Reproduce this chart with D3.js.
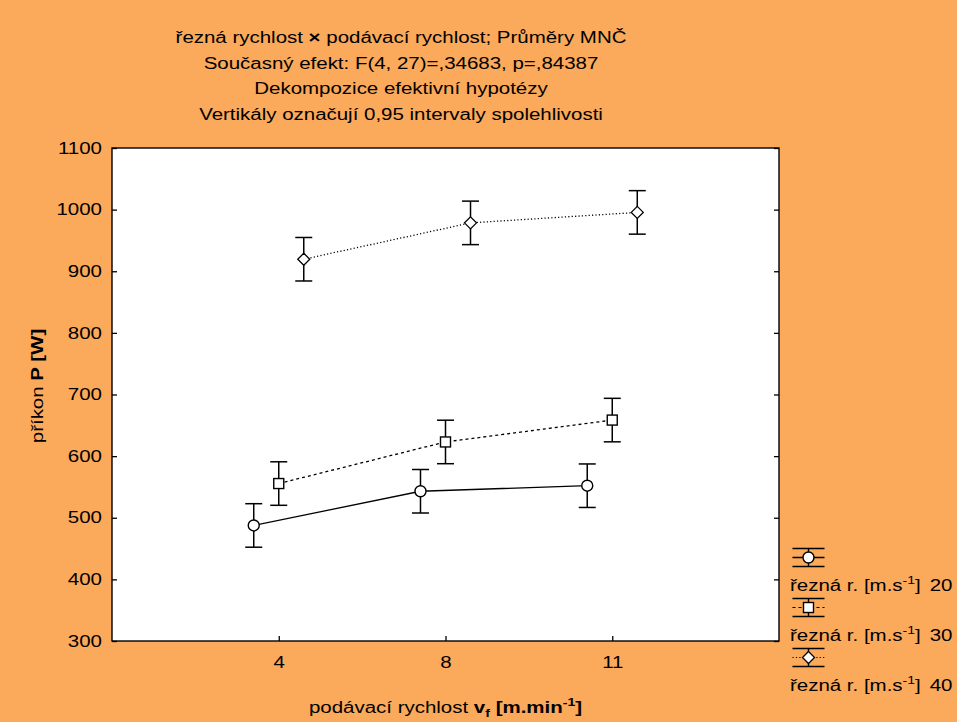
<!DOCTYPE html>
<html>
<head>
<meta charset="utf-8">
<script src="https://cdn.jsdelivr.net/npm/d3@7"></script>
<style>
html,body{margin:0;padding:0;background:#FBA95A;}
svg{display:block;font-family:Arial,"Liberation Sans",sans-serif;}
</style>
</head>
<body>
<svg id="chart" width="957" height="722"></svg>
<script>
// ---- data ----
const titleLines = [
  ["řezná rychlost ", "×", " podávací rychlost; Průměry MNČ"],
  ["Současný efekt: F(4, 27)=,34683, p=,84387"],
  ["Dekompozice efektivní hypotézy"],
  ["Vertikály označují 0,95 intervaly spolehlivosti"]
];
const categories = ["4", "8", "11"];
const seriesNames = ["20", "30", "40"];
const means20 = [487.5, 543, 552];
const means30 = [555.5, 623, 658.5];
const means40 = [919.5, 978.5, 995.5];
const ci20 = [35.3, 35.3, 35.3];
const ci30 = [35.3, 35.3, 35.3];
const ci40 = [35.3, 35.3, 35.3];
const yTicks = [300, 400, 500, 600, 700, 800, 900, 1000, 1100];

// ---- layout ----
const svg = d3.select("#chart");
const pL = 112, pR = 779, pT = 148, pB = 641;
const SX = 1.28;   // horizontal stretch of the glyphs
const FS = 16;
const bg = "#FBA95A";
svg.append("rect").attr("width", 957).attr("height", 722).attr("fill", bg);

const x = d3.scaleLinear().domain([0, categories.length + 1]).range([pL, pR]);
const y = d3.scaleLinear().domain([300, 1100]).range([pB, pT]);

svg.append("rect").attr("x", pL).attr("y", pT)
  .attr("width", pR - pL).attr("height", pB - pT)
  .attr("fill", "#fff").attr("stroke", "#000").attr("stroke-width", 1.4);

function stretchText(sel) {
  sel.each(function () {
    const t = d3.select(this);
    const tx = +t.attr("x") || 0, ty = +t.attr("y") || 0;
    t.attr("x", 0).attr("y", 0)
      .attr("transform", `translate(${tx},${ty}) scale(${SX},1)`);
  });
}

// axes
const yAxis = d3.axisLeft(y).tickValues(yTicks).tickFormat(d3.format("d"))
  .tickSizeInner(-5).tickSizeOuter(0).tickPadding(10);
const gy = svg.append("g").attr("transform", `translate(${pL},0)`).call(yAxis);
const yAxisR = d3.axisRight(y).tickValues(yTicks).tickSizeInner(-5).tickSizeOuter(0).tickFormat("");
const gyr = svg.append("g").attr("transform", `translate(${pR},0)`).call(yAxisR);
const xAxis = d3.axisBottom(x).tickValues(categories.map((c, i) => i + 1))
  .tickFormat((d) => categories[d - 1]).tickSizeInner(-5).tickSizeOuter(0).tickPadding(16);
const gx = svg.append("g").attr("transform", `translate(0,${pB})`).call(xAxis);
[gy, gyr, gx].forEach(g => {
  g.select(".domain").remove();
  g.selectAll("line").attr("stroke", "#000").attr("stroke-width", 1.3);
  g.selectAll("text").attr("font-size", FS).attr("fill", "#000")
    .attr("font-family", "Arial, 'Liberation Sans', sans-serif");
  stretchText(g.selectAll("text"));
});

// titles
const tl = svg.append("g").selectAll("text").data(titleLines).join("text")
  .attr("x", 401).attr("y", (d, i) => 43 + i * 25.7)
  .attr("text-anchor", "middle").attr("font-size", FS);
tl.selectAll("tspan").data(d => d).join("tspan")
  .attr("font-weight", d => d === "×" ? "bold" : null).text(d => d);
stretchText(tl);

// axis titles
const xt = svg.append("text").attr("x", (pL + pR) / 2).attr("y", 713)
  .attr("text-anchor", "middle").attr("font-size", FS);
xt.append("tspan").text("podávací rychlost ");
xt.append("tspan").attr("font-weight", "bold").text("v");
xt.append("tspan").attr("font-weight", "bold").attr("font-size", 11).attr("dy", 4).text("f");
xt.append("tspan").attr("font-weight", "bold").attr("dy", -4).text(" [m.min");
xt.append("tspan").attr("font-weight", "bold").attr("font-size", 11).attr("dy", -7).text("-1");
xt.append("tspan").attr("font-weight", "bold").attr("dy", 7).text("]");
stretchText(xt);

const yt = svg.append("text").attr("transform", `translate(43,386) rotate(-90) scale(${SX},1)`)
  .attr("text-anchor", "middle").attr("font-size", FS);
yt.append("tspan").text("příkon ");
yt.append("tspan").attr("font-weight", "bold").text("P [W]");

// series
const series = [
  {name: seriesNames[0], means: means20, ci: ci20, dash: null, marker: "circle", off: -0.15},
  {name: seriesNames[1], means: means30, ci: ci30, dash: "3,3", marker: "square", off: 0},
  {name: seriesNames[2], means: means40, ci: ci40, dash: "1.2,2.2", marker: "diamond", off: 0.15}
];

function drawMarker(g, type, cx, cy) {
  if (type === "circle") {
    g.append("circle").attr("cx", cx).attr("cy", cy).attr("r", 5.5)
      .attr("fill", "#fff").attr("stroke", "#000").attr("stroke-width", 1.4);
  } else if (type === "square") {
    g.append("rect").attr("x", cx - 5).attr("y", cy - 5).attr("width", 10).attr("height", 10)
      .attr("fill", "#fff").attr("stroke", "#000").attr("stroke-width", 1.4);
  } else {
    const s = 6;
    g.append("path").attr("d", `M${cx},${cy - s}L${cx + s},${cy}L${cx},${cy + s}L${cx - s},${cy}Z`)
      .attr("fill", "#fff").attr("stroke", "#000").attr("stroke-width", 1.3);
  }
}

const cap = 8.5;
series.forEach(s => {
  const g = svg.append("g");
  const pts = s.means.map((m, i) => [x(i + 1 + s.off), y(m)]);
  g.append("path").attr("d", d3.line()(pts)).attr("fill", "none")
    .attr("stroke", "#000").attr("stroke-width", 1.3)
    .attr("stroke-dasharray", s.dash);
  s.means.forEach((m, i) => {
    const cx = x(i + 1 + s.off);
    const y1 = y(m + s.ci[i]), y0 = y(m - s.ci[i]);
    g.append("line").attr("x1", cx).attr("x2", cx).attr("y1", y1).attr("y2", y0)
      .attr("stroke", "#000").attr("stroke-width", 1.5);
    [y1, y0].forEach(yy => g.append("line").attr("x1", cx - cap).attr("x2", cx + cap)
      .attr("y1", yy).attr("y2", yy).attr("stroke", "#000").attr("stroke-width", 1.5));
    drawMarker(g, s.marker, cx, y(m));
  });
});

// legend
series.forEach((s, i) => {
  const g = svg.append("g");
  const cy = 557.5 + i * 50, cx = 808.5;
  const x0 = 792.5, x1 = 824.5;
  g.append("line").attr("x1", x0).attr("x2", x1).attr("y1", cy - 9).attr("y2", cy - 9)
    .attr("stroke", "#000").attr("stroke-width", 1.4);
  g.append("line").attr("x1", x0).attr("x2", x1).attr("y1", cy + 9).attr("y2", cy + 9)
    .attr("stroke", "#000").attr("stroke-width", 1.4);
  g.append("line").attr("x1", cx).attr("x2", cx).attr("y1", cy - 9).attr("y2", cy + 9)
    .attr("stroke", "#000").attr("stroke-width", 1.4);
  g.append("line").attr("x1", x0).attr("x2", x1).attr("y1", cy).attr("y2", cy)
    .attr("stroke", "#000").attr("stroke-width", s.dash ? 1 : 1.4)
    .attr("stroke-dasharray", s.dash);
  drawMarker(g, s.marker, cx, cy);
  const t = g.append("text").attr("x", 790).attr("y", cy + 33).attr("font-size", FS);
  t.append("tspan").text("řezná r. [m.s");
  t.append("tspan").attr("font-size", 11).attr("dy", -7).text("-1");
  t.append("tspan").attr("dy", 7).text("]");
  t.append("tspan").attr("dx", 7).text(s.name);
  stretchText(t);
});
</script>
</body>
</html>
